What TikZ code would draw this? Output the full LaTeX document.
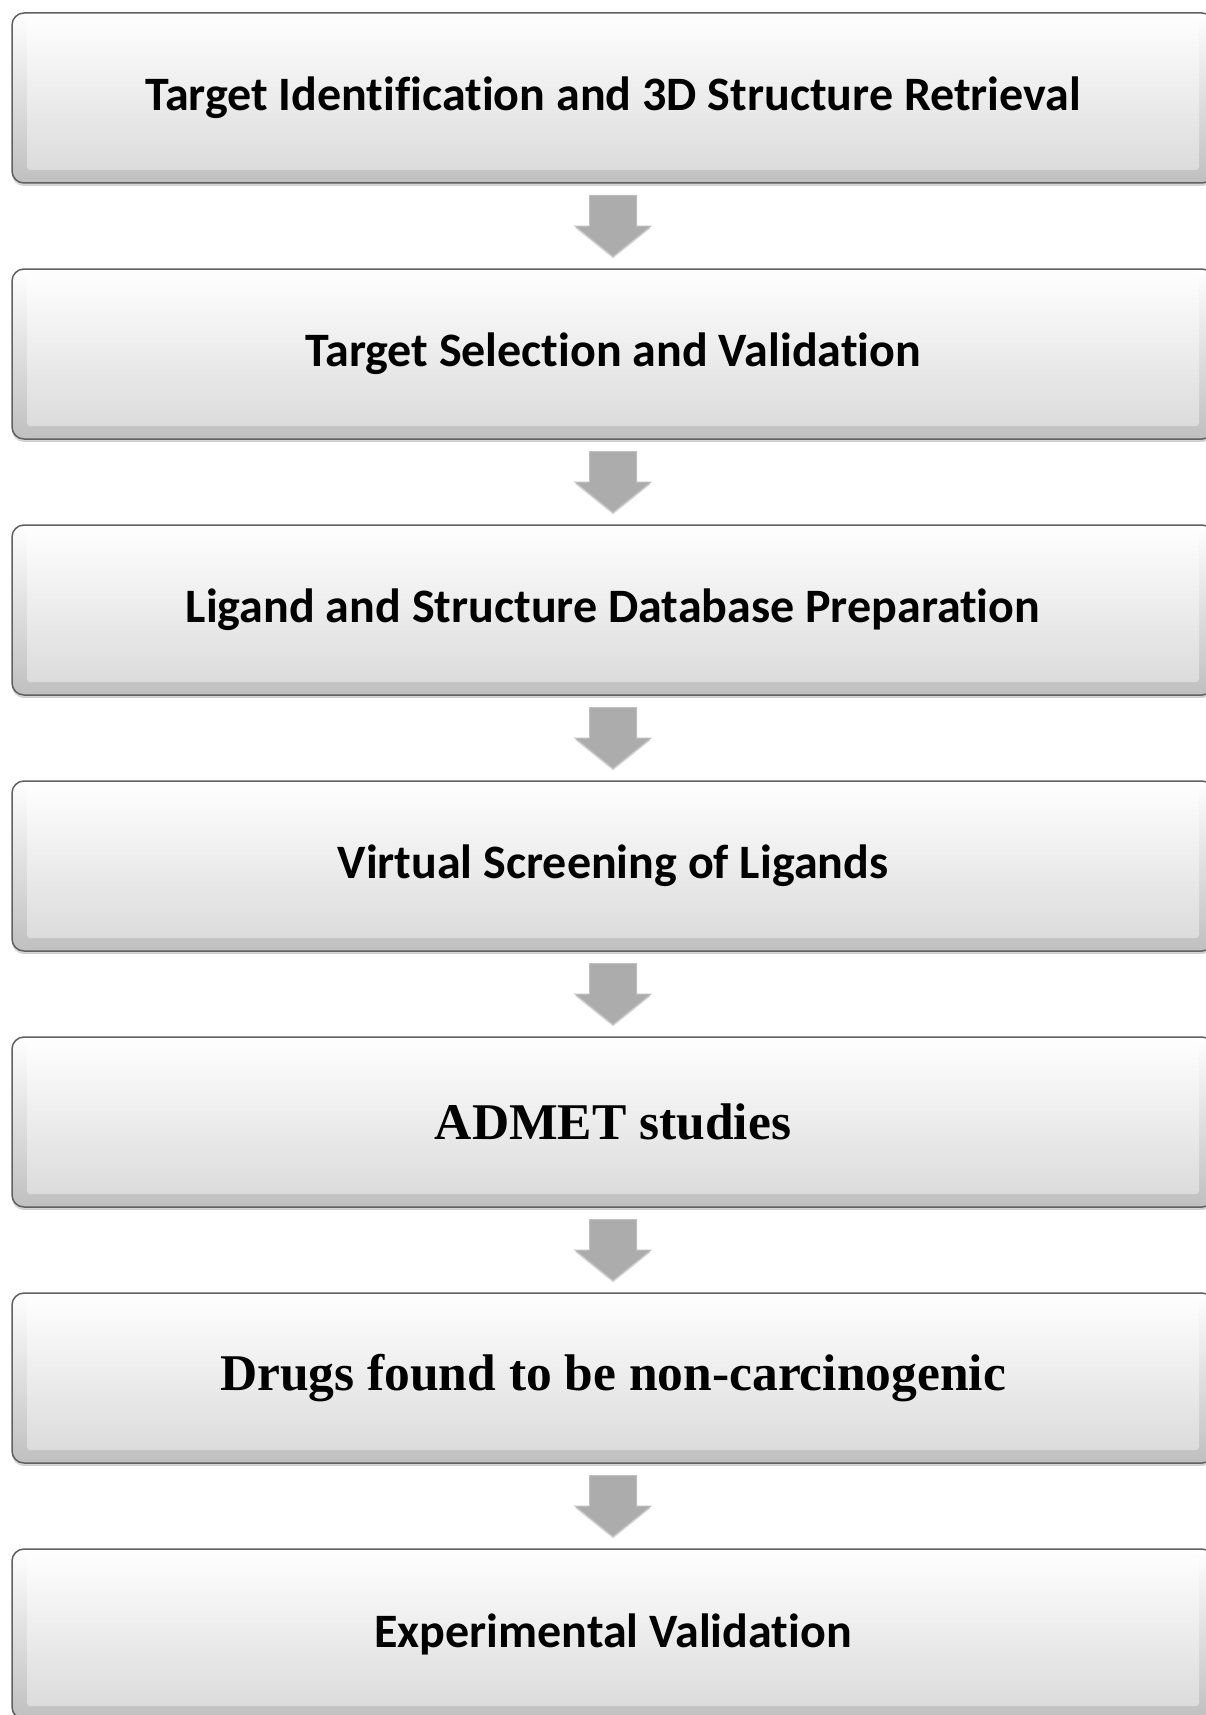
\documentclass[tikz,border=0pt]{standalone}
\usepackage{fontspec}
\setmainfont{Carlito}[Ligatures=NoCommon]
\newfontfamily\bookserif{Liberation Serif}
\usetikzlibrary{positioning, calc, shadows}

% grey block arrow half way between two stages
\newcommand{\stagearrow}[2]{%
	\path ($(#1.south)!0.5!(#2.north)$) coordinate (m);
	\draw[blockarrow] ([shift={(-23.5,30.5)}]m) -- ([shift={(23.5,30.5)}]m)
		-- ([shift={(23.5,0)}]m) -- ([shift={(38,0)}]m) -- ([shift={(0,-30.5)}]m)
		-- ([shift={(-38,0)}]m) -- ([shift={(-23.5,0)}]m) -- cycle;
}

\begin{document}
\begin{tikzpicture}[x=1pt, y=1pt,
			node distance=86pt,
			stage/.style={draw=gray!75!black, line width=1.5pt, rounded corners=12pt,
				outer sep=0pt, minimum width=1202pt, minimum height=170pt,
				top color=white, bottom color=gray!50,
				drop shadow={shadow xshift=0pt, shadow yshift=-3pt, opacity=0.35},
				path picture={\shade[top color=white, bottom color=gray!30, rounded corners=3pt]
					([shift={(15,-7)}]path picture bounding box.north west) rectangle
					([shift={(-15,13)}]path picture bounding box.south east);},
				font=\bfseries\fontsize{48}{58}\selectfont},
			antiqua/.style={font=\bookserif\bfseries\fontsize{51.5}{62}\selectfont},
			blockarrow/.style={fill=gray!65, draw=gray!50, line width=1pt,
				drop shadow={shadow xshift=0pt, shadow yshift=-2pt, opacity=0.25}}]

	\useasboundingbox (0,0) rectangle (1205,-1715);

	\node[stage] (tid) at (613,-98) {Target Identification and 3D Structure Retrieval};
	\node[stage, below=of tid] (tsel) {Target Selection and Validation};
	\node[stage, below=of tsel] (lig) {Ligand and Structure Database Preparation};
	\node[stage, below=of lig] (vs) {Virtual Screening of Ligands};
	\node[stage, antiqua, below=of vs] (admet) {ADMET studies};
	\node[stage, antiqua, below=of admet] (drugs) {Drugs found to be non-carcinogenic};
	\node[stage, below=of drugs] (exp) {Experimental Validation};

	\foreach \a/\b in {tid/tsel, tsel/lig, lig/vs, vs/admet, admet/drugs, drugs/exp}
		\stagearrow{\a}{\b};
\end{tikzpicture}
\end{document}
